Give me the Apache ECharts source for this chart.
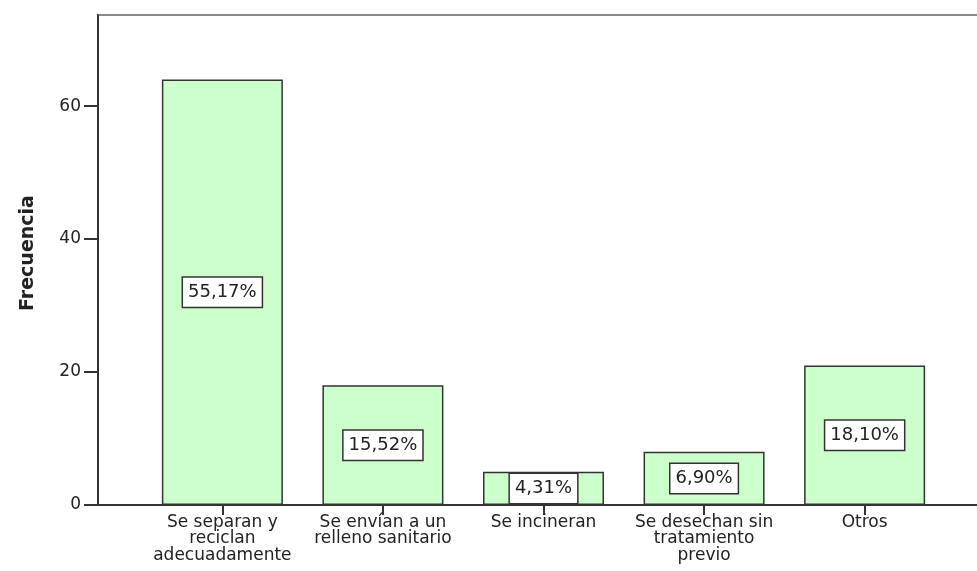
<!DOCTYPE html>
<html>
<head>
<meta charset="utf-8">
<script src="https://cdn.jsdelivr.net/npm/echarts@6/dist/echarts.min.js"></script>
<style>
html,body{margin:0;padding:0;background:#fff;}
#chart{width:977px;height:571px;}
</style>
</head>
<body>
<div id="chart"></div>
<script>
var categories = ['Se separan y\nreciclan\nadecuadamente', 'Se envían a un\nrelleno sanitario', 'Se incineran', 'Se desechan sin\ntratamiento\nprevio', 'Otros'];
var counts = [64, 18, 5, 8, 21];
var percents = [55.17, 15.52, 4.31, 6.90, 18.10];
var yTicks = [0, 20, 40, 60];
var yTitle = 'Frecuencia';

var positions = categories.map(function (c, i) { return i; });
var barData = counts.map(function (v, i) { return [positions[i], v]; });

var chart = echarts.init(document.getElementById('chart'));
chart.setOption({
  animation: false,
  backgroundColor: '#fff',
  grid: {
    left: 98, top: 15, width: 891, bottom: 66,
    outerBoundsMode: 'none',
    containLabel: false,
    show: true, borderColor: '#888', borderWidth: 2, backgroundColor: 'transparent'
  },
  xAxis: {
    type: 'value',
    min: -0.7745,
    max: 4.7745,
    splitLine: { show: false },
    axisLine: { show: true, onZero: false, lineStyle: { color: '#333', width: 2 } },
    axisTick: { show: true, customValues: positions, length: 10, lineStyle: { color: '#333', width: 2 } },
    axisLabel: {
      customValues: positions,
      formatter: function (v) { return categories[Math.round(v)] || ''; },
      fontFamily: 'DejaVu Sans', fontSize: 17, color: '#222', lineHeight: 16.5, margin: 9
    }
  },
  yAxis: {
    type: 'value',
    min: 0,
    max: 73.7,
    name: yTitle,
    nameLocation: 'middle',
    nameRotate: 90,
    nameGap: 60,
    nameTextStyle: { fontFamily: 'DejaVu Sans', fontWeight: 'bold', fontSize: 19, color: '#222', padding: [0, 0, 0, 14] },
    splitLine: { show: false },
    axisLine: { show: true, onZero: false, lineStyle: { color: '#333', width: 2 } },
    axisTick: { show: true, customValues: yTicks, length: 14, lineStyle: { color: '#333', width: 2 } },
    axisLabel: {
      customValues: yTicks,
      fontFamily: 'DejaVu Sans', fontSize: 17, color: '#222', margin: 17
    }
  },
  series: [{
    type: 'bar',
    data: barData,
    barWidth: 121,
    itemStyle: { color: '#ccffcc', borderColor: '#333', borderWidth: 1.5 },
    label: {
      show: true,
      position: 'inside',
      formatter: function (p) { return percents[p.dataIndex].toFixed(2).replace('.', ',') + '%'; },
      fontFamily: 'DejaVu Sans', fontSize: 18, color: '#222',
      backgroundColor: '#fff', borderColor: '#333', borderWidth: 1.5,
      padding: [6, 5, 5, 5]
    }
  }]
});
</script>
</body>
</html>
